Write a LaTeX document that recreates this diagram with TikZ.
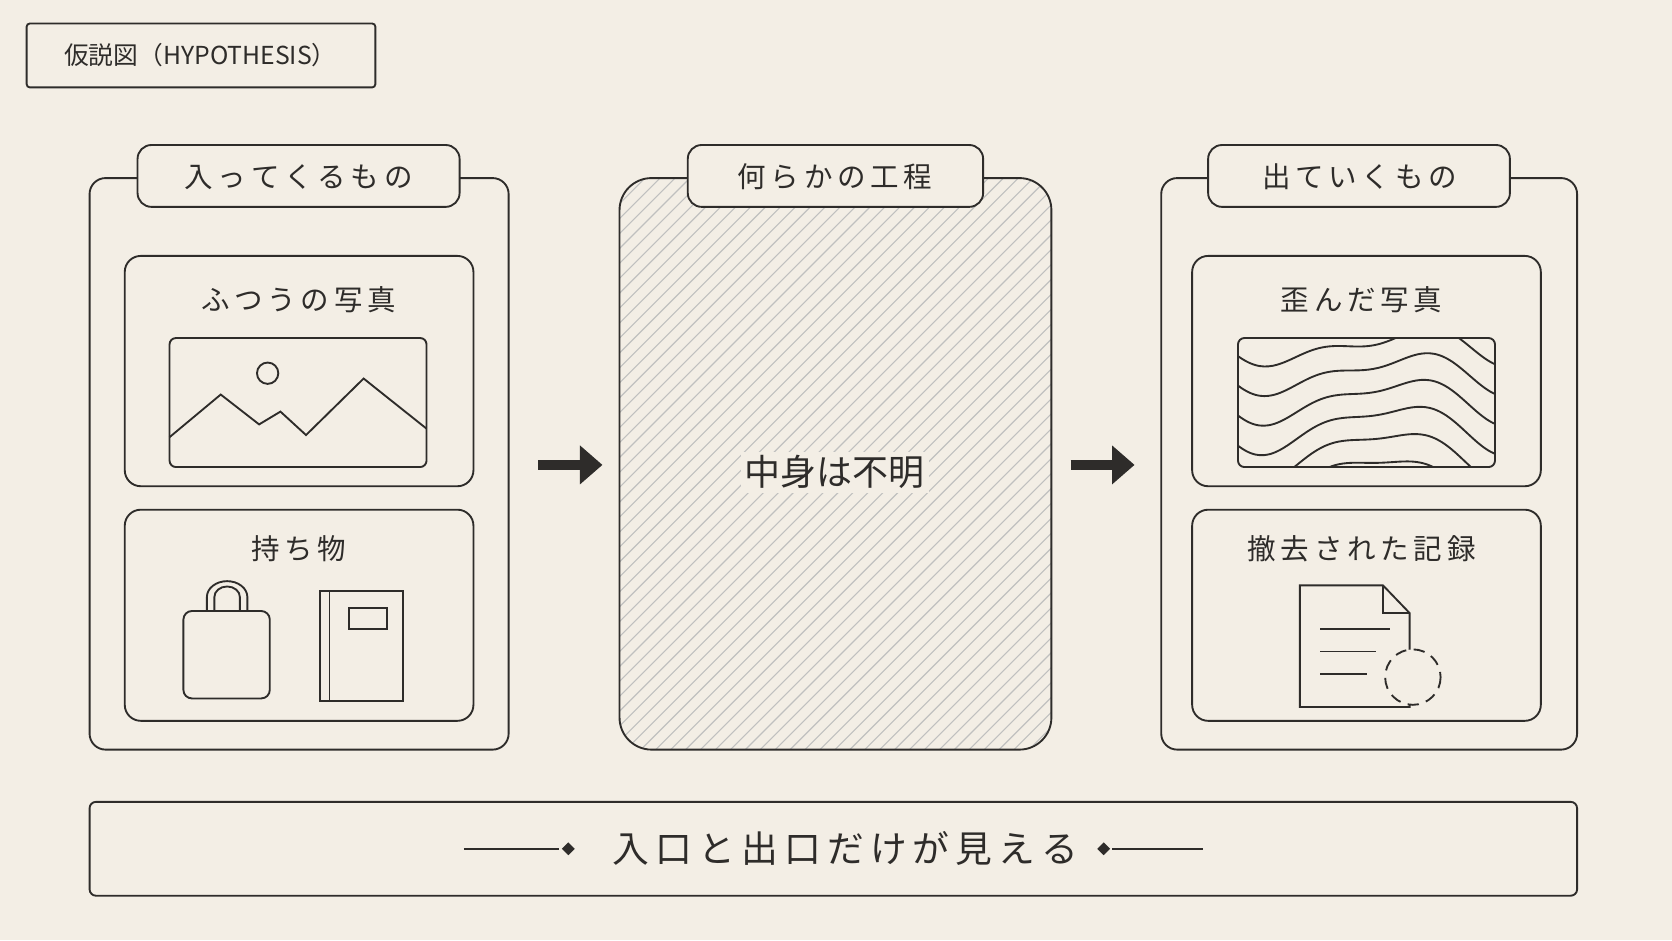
\documentclass[tikz,border=0pt]{standalone}
\usepackage{fontspec}
\setmainfont{Noto Sans CJK JP}
\usetikzlibrary{arrows.meta}
\usetikzlibrary{calc}
\usetikzlibrary{shapes}
\definecolor{paper}{HTML}{F3EEE5}
\definecolor{ink}{HTML}{2E2C2A}
\begin{document}
\begin{tikzpicture}[x=0.01cm, y=-0.01cm, line width=0.5pt, draw=ink, text=ink,
        panel_style/.style={draw=ink, rounded corners=0.15cm},
        tab_style/.style={draw=ink, fill=paper, rounded corners=0.13cm},
        label_style/.style={font=\fontsize{7.6}{9}\selectfont, text=ink},
        arrow_style/.style={draw=ink, line width=2.6pt, -{Triangle[length=6pt,width=10pt]}}]

        \fill [paper] (0,0) rectangle (1568,882);
        \useasboundingbox (0,0) rectangle (1568,882);

        % title
        \draw [draw=ink, rounded corners=0.03cm] (25,22) rectangle (352,82);
        \node [font=\fontsize{6.6}{8}\selectfont](title) at (188,52) {仮説図（HYPOTHESIS）};

        % left panel
        \draw [panel_style] (84,167) rectangle (477,703);
        \draw [tab_style] (129,136) rectangle (431,194);
        \node [label_style](in_tab) at (280,166) {入\,っ\,て\,く\,る\,も\,の};
        \draw [panel_style] (117,240) rectangle (444,456);
        \node [label_style](photo_lbl) at (280,281) {ふ\,つ\,う\,の\,写\,真};
        \draw [rounded corners=0.06cm] (159,317) rectangle (400,438);
        \draw (251,350) circle (10);
        \draw (159,410) -- (207,370) -- (243,398) -- (263,386) -- (287,408) -- (341,355) -- (400,402);
        \draw [panel_style] (117,478) rectangle (444,676);
        \node [label_style](goods_lbl) at (280,515) {持\,ち\,物};
        \draw [rounded corners=0.08cm] (172,573) rectangle (253,655);
        \draw (194,573) -- (194,560) arc (180:360:19 and 15) -- (232,573);
        \draw (201,573) -- (201,560) arc (180:360:12 and 10) -- (225,573);
        \draw (300,554) rectangle (378,657);
        \draw (309,554) -- (309,657);
        \draw (327,570) rectangle (363,590);

        % middle panel
        \begin{scope}
            \clip [rounded corners=0.3cm] (581,167) rectangle (986,703);
            \foreach \k in {0,14,...,980} {
                \draw [draw=ink!30, line width=0.3pt] (581+\k-540,703) -- (581+\k,163);
            }
        \end{scope}
        \draw [draw=ink, rounded corners=0.3cm] (581,167) rectangle (986,703);
        \draw [tab_style] (645,136) rectangle (922,194);
        \node [label_style](proc_tab) at (783,166) {何\,ら\,か\,の\,工\,程};
        \node [font=\fontsize{9.6}{11}\selectfont, fill=paper, inner sep=1pt](unknown) at (783,443) {中身は不明};

        % arrows
        \coordinate (a1s) at (505,436); \coordinate (a1e) at (565,436);
        \coordinate (a2s) at (1004,436); \coordinate (a2e) at (1064,436);
        \draw [arrow_style] (a1s) -- (a1e);
        \draw [arrow_style] (a2s) -- (a2e);

        % right panel
        \draw [panel_style] (1089,167) rectangle (1479,703);
        \draw [tab_style] (1133,136) rectangle (1416,194);
        \node [label_style](out_tab) at (1275,166) {出\,て\,い\,く\,も\,の};
        \draw [panel_style] (1118,240) rectangle (1445,456);
        \node [label_style](warp_lbl) at (1277,281) {歪\,ん\,だ\,写\,真};
        \begin{scope}
            \clip [rounded corners=0.06cm] (1161,317) rectangle (1402,438);
            \foreach \b [count=\i] in {300,325,...,460} {
                \draw [domain=1161:1402, samples=60, smooth]
                    plot (\x, {\b + (10+2*\i)*sin(1.6*(\x-1161)+8*\i) + 8*sin(3.1*(\x-1161)+40)});
            }
        \end{scope}
        \draw [rounded corners=0.06cm] (1161,317) rectangle (1402,438);
        \draw [panel_style] (1118,478) rectangle (1445,676);
        \node [label_style](rec_lbl) at (1277,515) {撤\,去\,さ\,れ\,た\,記\,録};
        \draw (1297,549) -- (1219,549) -- (1219,663) -- (1322,663) -- (1322,575) -- cycle;
        \draw (1297,549) -- (1297,575) -- (1322,575);
        \foreach \yy/\xe in {590/1304, 611/1290, 632/1282} {
            \draw (1238,\yy) -- (\xe,\yy);
        }
        \fill [paper] (1325,635) circle (26);
        \draw [dashed, dash pattern=on 3pt off 2pt] (1325,635) circle (26);

        % bottom banner
        \draw [draw=ink, rounded corners=0.06cm] (84,752) rectangle (1479,840);
        \node [font=\fontsize{9.8}{12}\selectfont](visible) at (793,796) {入\,口\,と\,出\,口\,だ\,け\,が\,見\,え\,る};
        \draw [line width=0.4pt] (435,796) -- (524,796);
        \draw [line width=0.4pt] (1043,796) -- (1128,796);
        \fill [ink] (533,790) -- (539,796) -- (533,802) -- (527,796) -- cycle;
        \fill [ink] (1035,790) -- (1041,796) -- (1035,802) -- (1029,796) -- cycle;
\end{tikzpicture}
\end{document}
